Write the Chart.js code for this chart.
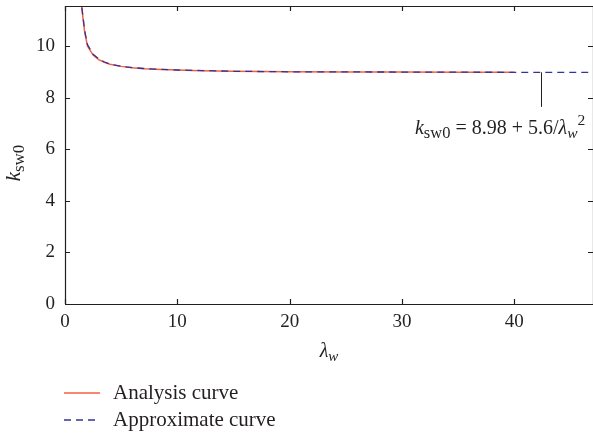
<!DOCTYPE html>
<html>
<head>
<meta charset="utf-8">
<script src="https://cdn.jsdelivr.net/npm/chart.js@4.4.0/dist/chart.umd.min.js"></script>
<style>
  html, body { margin: 0; padding: 0; background: #fff; overflow: hidden; }
  #wrap { width: 593px; height: 434px; }
</style>
</head>
<body>
<div id="wrap"><canvas id="kChart" width="593" height="434"></canvas></div>
<script>
// values
const analysisX = [1.4, 1.5, 1.75, 2, 2.5, 3, 3.5, 4, 5, 6, 7, 8, 10, 12, 15, 20, 25, 30, 35, 40];
const analysisY = [11.9, 11.45, 10.55, 10.0, 9.65, 9.47, 9.37, 9.29, 9.21, 9.16, 9.12, 9.1, 9.07, 9.04, 9.02, 9.0, 8.99, 8.99, 8.98, 8.98];
const approxX = [1.4, 1.5, 1.75, 2, 2.5, 3, 3.5, 4, 5, 6, 8, 10, 15, 20, 30, 40, 47];
const approxY = [11.95, 11.5, 10.6, 10.05, 9.68, 9.5, 9.38, 9.3, 9.21, 9.16, 9.1, 9.07, 9.02, 9.0, 8.99, 8.98, 8.98];
const xTicks = [0, 10, 20, 30, 40];
const yTicks = [0, 2, 4, 6, 8, 10];
const seriesNames = ["Analysis curve", "Approximate curve"];

const INK = "#231f20";
const SERIF = '"Liberation Serif", "Times New Roman", serif';

// annotation anchor, in data units
const noteAt = { x: 31.15, y: 6.6 };
const leader = { x: 42.4, y0: 8.98, y1: 7.64 };

function toPoints(xs, ys) {
  return xs.map((x, i) => ({ x: x, y: ys[i] }));
}

// draws a list of text runs left to right, returns total width
function drawRuns(ctx, x, y, runs, measureOnly) {
  let w = 0;
  runs.forEach((r) => {
    ctx.font = r.font;
    if (!measureOnly) ctx.fillText(r.t, x + w, y + (r.dy || 0));
    w += ctx.measureText(r.t).width;
  });
  return w;
}

const decorPlugin = {
  id: "decor",
  afterDraw(chart) {
    const { ctx, chartArea: a } = chart;
    const xs = chart.scales.x, ys = chart.scales.y;
    ctx.save();
    ctx.strokeStyle = INK;
    ctx.fillStyle = INK;
    ctx.lineWidth = 1.2;

    // box
    ctx.beginPath();
    ctx.moveTo(a.left, a.top + 0.5);
    ctx.lineTo(a.right, a.top + 0.5);
    ctx.moveTo(a.left, a.bottom + 0.5);
    ctx.lineTo(a.right, a.bottom + 0.5);
    ctx.moveTo(a.left + 0.5, a.top);
    ctx.lineTo(a.left + 0.5, a.bottom);
    ctx.moveTo(a.right + 0.5, a.top);
    ctx.lineTo(a.right + 0.5, a.bottom);
    ctx.stroke();

    // inward ticks on all sides
    const tl = 5;
    ctx.beginPath();
    xTicks.forEach((v) => {
      const px = Math.round(xs.getPixelForValue(v)) + 0.5;
      ctx.moveTo(px, a.bottom);
      ctx.lineTo(px, a.bottom - tl);
      ctx.moveTo(px, a.top);
      ctx.lineTo(px, a.top + tl);
    });
    yTicks.forEach((v) => {
      const py = Math.round(ys.getPixelForValue(v)) + 0.5;
      ctx.moveTo(a.left, py);
      ctx.lineTo(a.left + tl, py);
      ctx.moveTo(a.right, py);
      ctx.lineTo(a.right - tl, py);
    });
    ctx.stroke();

    // leader line + formula
    ctx.lineWidth = 1;
    ctx.beginPath();
    const lx = Math.round(xs.getPixelForValue(leader.x)) + 0.5;
    ctx.moveTo(lx, ys.getPixelForValue(leader.y0));
    ctx.lineTo(lx, ys.getPixelForValue(leader.y1));
    ctx.stroke();

    ctx.textBaseline = "alphabetic";
    ctx.textAlign = "left";
    drawRuns(ctx, xs.getPixelForValue(noteAt.x), ys.getPixelForValue(noteAt.y), [
      { t: "k", font: "italic 20px " + SERIF },
      { t: "sw0", font: "16.5px " + SERIF, dy: 4 },
      { t: " = 8.98 + 5.6/", font: "20px " + SERIF },
      { t: "\u03bb", font: "italic 20px " + SERIF },
      { t: "w", font: "italic 15.5px " + SERIF, dy: 4 },
      { t: "2", font: "15.5px " + SERIF, dy: -9 }
    ]);

    // x axis title
    const xTitle = [
      { t: "\u03bb", font: "italic 20px " + SERIF },
      { t: "w", font: "italic 15px " + SERIF, dy: 4 }
    ];
    const xw = drawRuns(ctx, 0, 0, xTitle, true);
    drawRuns(ctx, (a.left + a.right) / 2 - xw / 2, 357, xTitle);

    // y axis title, rotated
    const yTitle = [
      { t: "k", font: "italic 21px " + SERIF },
      { t: "sw0", font: "17px " + SERIF, dy: 4 }
    ];
    const yw = drawRuns(ctx, 0, 0, yTitle, true);
    ctx.save();
    ctx.translate(20, (a.top + a.bottom) / 2 + 8);
    ctx.rotate(-Math.PI / 2);
    drawRuns(ctx, -yw / 2, 0, yTitle);
    ctx.restore();

    // legend
    ctx.textBaseline = "middle";
    chart.data.datasets.forEach((ds, i) => {
      const ly = 393 + i * 27;
      ctx.strokeStyle = ds.borderColor;
      ctx.lineWidth = ds.borderWidth;
      ctx.setLineDash(ds.borderDash || []);
      ctx.beginPath();
      ctx.moveTo(64, ly);
      ctx.lineTo(100, ly);
      ctx.stroke();
      ctx.setLineDash([]);
      ctx.fillStyle = INK;
      ctx.font = "21px " + SERIF;
      ctx.fillText(ds.label, 113, ly);
    });
    ctx.restore();
  }
};

// grid kept on but invisible with no tick marks, so label padding is exact
const hiddenGrid = { display: true, drawOnChartArea: false, drawTicks: false, color: "rgba(0,0,0,0)" };

new Chart(document.getElementById("kChart"), {
  type: "line",
  data: {
    datasets: [
      {
        label: seriesNames[0],
        data: toPoints(analysisX, analysisY),
        borderColor: "#f4613f",
        borderWidth: 1.5,
        pointRadius: 0,
        tension: 0,
        order: 1
      },
      {
        label: seriesNames[1],
        data: toPoints(approxX, approxY),
        borderColor: "#33339c",
        borderWidth: 1.3,
        borderDash: [7, 5],
        pointRadius: 0,
        tension: 0,
        order: 0
      }
    ]
  },
  options: {
    responsive: false,
    devicePixelRatio: 1,
    animation: false,
    layout: { padding: { top: 6, right: 0, bottom: 60, left: 0 } },
    plugins: { legend: { display: false }, tooltip: { enabled: false } },
    scales: {
      x: {
        type: "linear",
        min: 0,
        max: 47,
        grid: hiddenGrid,
        border: { display: false },
        ticks: { color: INK, font: { family: SERIF, size: 19 }, padding: 7, maxRotation: 0 },
        afterBuildTicks: (s) => { s.ticks = xTicks.map((v) => ({ value: v })); },
        afterFit: (s) => { s.height = 70; s.paddingLeft = 0; s.paddingRight = 0; }
      },
      y: {
        type: "linear",
        min: 0,
        max: 11.55,
        grid: hiddenGrid,
        border: { display: false },
        ticks: { color: INK, font: { family: SERIF, size: 19 }, padding: 10 },
        afterBuildTicks: (s) => { s.ticks = yTicks.map((v) => ({ value: v })); },
        afterFit: (s) => { s.width = 65; s.paddingTop = 0; s.paddingBottom = 0; }
      }
    }
  },
  plugins: [decorPlugin]
});
</script>
</body>
</html>
